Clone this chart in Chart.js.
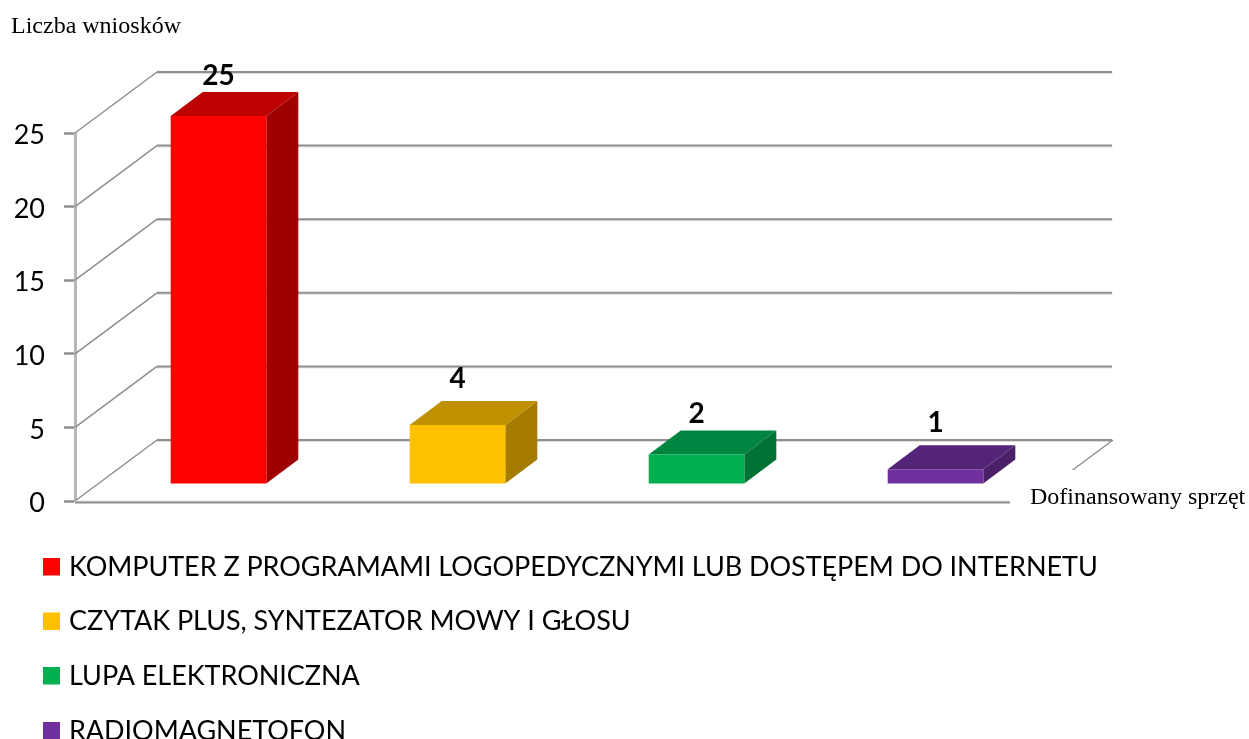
<!DOCTYPE html>
<html lang="pl">
<head>
<meta charset="utf-8">
<style>html,body{margin:0;padding:0;background:#fff;overflow:hidden}canvas{display:block}</style>
<script src="https://cdn.jsdelivr.net/npm/chart.js@4"></script>
</head>
<body>
<canvas id="c" width="1249" height="739"></canvas>
<script>
const categories = [
  "KOMPUTER Z PROGRAMAMI LOGOPEDYCZNYMI LUB DOSTĘPEM DO INTERNETU",
  "CZYTAK PLUS, SYNTEZATOR MOWY I GŁOSU",
  "LUPA ELEKTRONICZNA",
  "RADIOMAGNETOFON"
];
const values = [25, 4, 2, 1];
const yTicks = [0, 5, 10, 15, 20, 25];
const frontColors = ["#ff0000", "#ffc000", "#00b050", "#7030a0"];
const topColors = ["#bf0000", "#bf9000", "#008540", "#542478"];
const sideColors = ["#9f0000", "#a67c00", "#007234", "#4a2069"];
const yTitle = "Liczba wniosków";
const xTitle = "Dofinansowany sprzęt";

const wall = {dx: 82, dy: -61};       // back wall offset
const barShift = {dx: 24, dy: -17};   // bars stand mid-floor
const depth = {dx: 32, dy: -24};
const labelLift = [40, 46, 41, 46];
const gridColor = "#8e8e8e";
const sans = "Lato, 'Open Sans', sans-serif";
const serif = "'Liberation Serif', serif";

const threeD = {
  id: "threeD",
  afterLayout(chart) {
    const s = chart.scales.y;
    if (s._shifted) return;
    s._shifted = true;
    const draw = s.drawLabels.bind(s);
    s.drawLabels = area => {
      chart.ctx.save();
      chart.ctx.translate(0, 2.5);
      draw(area);
      chart.ctx.restore();
    };
  },
  beforeDatasetsDraw(chart) {
    const {ctx, chartArea: a, scales: {y}} = chart;
    ctx.save();
    // walls
    yTicks.forEach(v => {
      const py = y.getPixelForValue(v);
      const bx = a.left + wall.dx, by = py + wall.dy;
      ctx.strokeStyle = gridColor;
      ctx.lineWidth = 1.5;
      ctx.beginPath(); ctx.moveTo(a.left, py); ctx.lineTo(bx, by); ctx.stroke();
      ctx.strokeStyle = "#dcdcdc"; ctx.lineWidth = 1;
      ctx.beginPath(); ctx.moveTo(bx, by + 1.5); ctx.lineTo(a.right + wall.dx, by + 1.5); ctx.stroke();
      ctx.strokeStyle = gridColor; ctx.lineWidth = 2;
      ctx.beginPath(); ctx.moveTo(bx, by); ctx.lineTo(a.right + wall.dx - 1, by); ctx.stroke();
    });
    // floor edge on the right, and the front floor line
    const p0 = y.getPixelForValue(0);
    ctx.strokeStyle = gridColor; ctx.lineWidth = 1.5;
    ctx.beginPath(); ctx.moveTo(a.right + wall.dx, p0 + wall.dy); ctx.lineTo(a.right, p0); ctx.stroke();
    ctx.strokeStyle = "#dadada"; ctx.lineWidth = 1;
    ctx.beginPath(); ctx.moveTo(a.left, p0); ctx.lineTo(a.right, p0); ctx.stroke();
    ctx.strokeStyle = gridColor; ctx.lineWidth = 2;
    ctx.beginPath(); ctx.moveTo(a.left, p0 + 1.5); ctx.lineTo(a.right, p0 + 1.5); ctx.stroke();
    // white box of the x-axis title covers the floor corner
    ctx.fillStyle = "#fff";
    ctx.fillRect(1010, 470, 239, 42);
    ctx.restore();

    // bar side and top faces, then shift the native bars
    ctx.save();
    ctx.translate(barShift.dx, barShift.dy);
    chart.getDatasetMeta(0).data.forEach((bar, i) => {
      const {x, y: top, base, width} = bar.getProps(["x", "y", "base", "width"], true);
      const l = x - width / 2, r = x + width / 2;
      ctx.fillStyle = sideColors[i];
      ctx.beginPath();
      ctx.moveTo(r, top); ctx.lineTo(r + depth.dx, top + depth.dy);
      ctx.lineTo(r + depth.dx, base + depth.dy); ctx.lineTo(r, base);
      ctx.closePath(); ctx.fill();
      ctx.fillStyle = topColors[i];
      ctx.beginPath();
      ctx.moveTo(l, top); ctx.lineTo(l + depth.dx, top + depth.dy);
      ctx.lineTo(r + depth.dx, top + depth.dy); ctx.lineTo(r, top);
      ctx.closePath(); ctx.fill();
    });
  },
  afterDatasetsDraw(chart) {
    const {ctx} = chart;
    ctx.restore();
    ctx.save();
    // value labels
    ctx.fillStyle = "#000";
    ctx.textAlign = "center";
    ctx.textBaseline = "middle";
    ctx.font = "bold 28px " + sans;
    chart.getDatasetMeta(0).data.forEach((bar, i) => {
      ctx.fillText(String(values[i]), bar.x + barShift.dx, bar.y + barShift.dy - labelLift[i]);
    });
    // axis titles
    ctx.textAlign = "left";
    ctx.textBaseline = "alphabetic";
    ctx.font = "24px " + serif;
    ctx.fillText(yTitle, 11, 33);
    ctx.fillText(xTitle, 1030, 504);
    // legend
    const rows = [566.5, 621, 675.5, 730.5];
    categories.forEach((name, i) => {
      ctx.fillStyle = frontColors[i];
      ctx.fillRect(43, rows[i] - 8.5, 17, 17.5);
      ctx.fillStyle = "#000";
      ctx.font = "27px " + sans;
      ctx.letterSpacing = "-0.05px";
      ctx.textBaseline = "alphabetic";
      ctx.fillText(name, 69, rows[i] + 9);
    });
    ctx.restore();
  }
};

new Chart(document.getElementById("c"), {
  type: "bar",
  data: {
    labels: categories,
    datasets: [{
      data: values,
      backgroundColor: frontColors,
      borderWidth: 0,
      categoryPercentage: 1,
      barPercentage: 0.4,
      clip: false
    }]
  },
  options: {
    responsive: false,
    animation: false,
    events: [],
    layout: {padding: {top: 133, bottom: 238, right: 218, left: 0}},
    plugins: {legend: {display: false}, tooltip: {enabled: false}, title: {display: false}},
    scales: {
      x: {display: false},
      y: {
        min: 0, max: 25,
        afterFit(s) { s.width = 75; },
        afterBuildTicks(s) { s.ticks = yTicks.map(v => ({value: v})); },
        border: {display: true, color: "#b8b8b8", width: 3},
        grid: {drawOnChartArea: false, drawTicks: true, tickLength: 11, tickColor: gridColor, tickWidth: 2.5},
        ticks: {color: "#000", padding: 19, font: {family: sans, size: 27}}
      }
    }
  },
  plugins: [threeD]
});
</script>
</body>
</html>
